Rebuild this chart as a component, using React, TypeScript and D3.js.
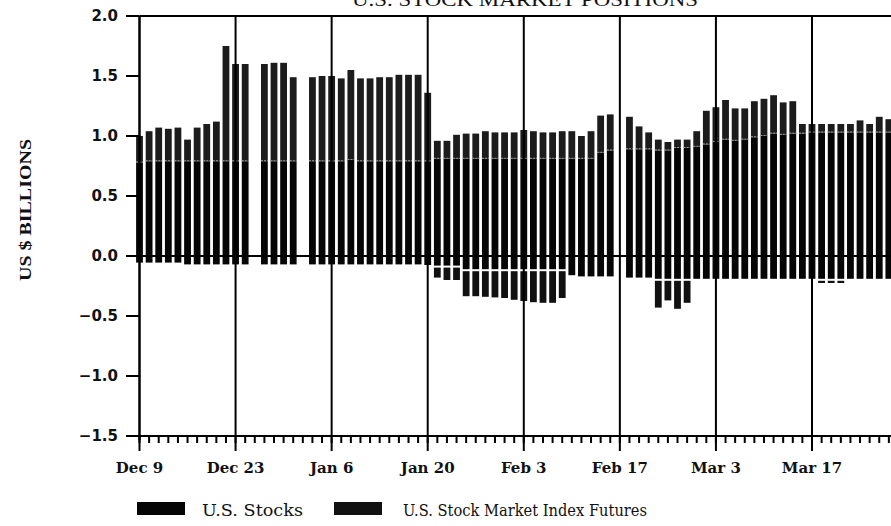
import React, { useEffect } from "react";
import * as d3 from "d3";

// Business-day index 0 = Dec 9; null = market holiday (Dec 25, Jan 1, Feb 17)
const tickLabels = ["Dec 9", "Dec 23", "Jan 6", "Jan 20", "Feb 3", "Feb 17", "Mar 3", "Mar 17"];
const tickIndex = [0, 10, 20, 30, 40, 50, 60, 70];
const yTicks = [2.0, 1.5, 1.0, 0.5, 0.0, -0.5, -1.0, -1.5];

// U.S. Stocks (long, bottom positive segment)
const stocks: (number | null)[] = [
  0.78, 0.79, 0.79, 0.79, 0.79, 0.79, 0.79, 0.79, 0.79, 0.79,
  0.79, 0.79, null, 0.79, 0.79, 0.79, 0.79, null, 0.79, 0.79,
  0.79, 0.79, 0.80, 0.79, 0.79, 0.79, 0.79, 0.79, 0.79, 0.79,
  0.79, 0.81, 0.81, 0.81, 0.81, 0.81, 0.81, 0.81, 0.81, 0.81,
  0.81, 0.81, 0.81, 0.81, 0.81, 0.81, 0.81, 0.81, 0.86, 0.88,
  null, 0.89, 0.89, 0.89, 0.88, 0.88, 0.90, 0.90, 0.91, 0.93,
  0.95, 0.97, 0.96, 0.97, 0.99, 1.00, 1.02, 1.01, 1.02, 1.02,
  1.03, 1.03, 1.03, 1.03, 1.03, 1.03, 1.03, 1.03, 1.03,
];

// U.S. Stock Market Index Futures (long, stacked on top)
const futures: (number | null)[] = [
  0.22, 0.25, 0.28, 0.27, 0.28, 0.18, 0.28, 0.31, 0.33, 0.96,
  0.81, 0.81, null, 0.81, 0.82, 0.82, 0.70, null, 0.70, 0.71,
  0.71, 0.69, 0.75, 0.69, 0.69, 0.70, 0.70, 0.72, 0.72, 0.72,
  0.57, 0.15, 0.15, 0.20, 0.21, 0.21, 0.23, 0.22, 0.22, 0.22,
  0.24, 0.23, 0.22, 0.22, 0.23, 0.23, 0.19, 0.23, 0.31, 0.30,
  null, 0.27, 0.19, 0.14, 0.09, 0.07, 0.07, 0.07, 0.13, 0.28,
  0.29, 0.33, 0.27, 0.26, 0.30, 0.31, 0.32, 0.27, 0.27, 0.08,
  0.07, 0.07, 0.07, 0.07, 0.07, 0.10, 0.07, 0.13, 0.11,
];

// U.S. Stocks (short, first negative segment)
const stocksShort: (number | null)[] = [
  -0.055, -0.055, -0.055, -0.055, -0.055, -0.07, -0.07, -0.07, -0.07, -0.07,
  -0.07, -0.07, null, -0.07, -0.07, -0.07, -0.07, null, -0.07, -0.07,
  -0.07, -0.07, -0.07, -0.07, -0.07, -0.07, -0.07, -0.07, -0.07, -0.07,
  -0.075, -0.08, -0.08, -0.08, -0.11, -0.11, -0.11, -0.11, -0.11, -0.11,
  -0.11, -0.11, -0.11, -0.11, -0.11, -0.16, -0.17, -0.17, -0.17, -0.17,
  null, -0.18, -0.18, -0.18, -0.19, -0.19, -0.19, -0.19, -0.19, -0.19,
  -0.19, -0.19, -0.19, -0.19, -0.19, -0.19, -0.19, -0.19, -0.19, -0.19,
  -0.19, -0.19, -0.19, -0.19, -0.19, -0.19, -0.19, -0.19, -0.19,
];

// U.S. Stock Market Index Futures (short, stacked below)
const futuresShort: (number | null)[] = [
  0, 0, 0, 0, 0, 0, 0, 0, 0, 0,
  0, 0, null, 0, 0, 0, 0, null, 0, 0,
  0, 0, 0, 0, 0, 0, 0, 0, 0, 0,
  0, -0.10, -0.12, -0.12, -0.225, -0.225, -0.23, -0.235, -0.24, -0.255,
  -0.265, -0.275, -0.28, -0.28, -0.24, 0, 0, 0, 0, 0,
  null, 0, 0, 0, -0.24, -0.18, -0.25, -0.20, 0, 0,
  0, 0, 0, 0, 0, 0, 0, 0, 0, 0,
  0, -0.035, -0.035, -0.035, 0, 0, 0, 0, 0,
];

const legendItems = ["U.S. Stocks", "U.S. Stock Market Index Futures"];

const W = 891;
const H = 526;

export default function App() {
  useEffect(() => {
    document.body.style.margin = "0";
  }, []);

  const x = d3.scaleLinear().domain([0, 70]).range([139.5, 812]);
  const y = d3.scaleLinear().domain([-1.5, 2]).range([436, 16]);
  const bw = 6.8;
  const right = W;
  const nIdx = d3.range(0, 80);

  const bars = stocks.map((s, i) => {
    if (s === null) return null;
    const f = futures[i] ?? 0;
    const ss = stocksShort[i] ?? 0;
    const fs = futuresShort[i] ?? 0;
    const cx = x(i);
    return (
      <g key={i}>
        <rect x={cx - bw / 2} y={y(s)} width={bw} height={y(0) - y(s)} fill="#050505" />
        {f > 0 && (
          <rect x={cx - bw / 2} y={y(s + f)} width={bw} height={y(s) - y(s + f)} fill="#1c1c1c" />
        )}
        {f > 0 && (
          <line x1={cx - bw / 2} x2={cx + bw / 2} y1={y(s) - 0.5} y2={y(s) - 0.5} stroke="#9a9a9a" strokeWidth={1} strokeDasharray="2 1" />
        )}
        <rect x={cx - bw / 2} y={y(0)} width={bw} height={y(ss) - y(0)} fill="#050505" />
        {fs < 0 && (
          <rect x={cx - bw / 2} y={y(ss) + 2} width={bw} height={y(ss + fs) - y(ss) - 2} fill="#111" />
        )}
      </g>
    );
  });

  return (
    <svg
      width={W}
      height={H}
      style={{ position: "absolute", left: 0, top: 0, display: "block", background: "#fff" }}
    >
      {/* title (cut off at the top, as in the source scan) */}
      <text
        x={525}
        y={6}
        textAnchor="middle"
        fontFamily="'Liberation Serif', serif"
        fontSize={18}
        textLength={346}
        lengthAdjust="spacingAndGlyphs"
        fill="#111"
      >
        U.S. STOCK MARKET POSITIONS
      </text>

      {/* bars */}
      {bars}

      {/* horizontal frame lines */}
      <line x1={x(0)} x2={right} y1={y(2)} y2={y(2)} stroke="#000" strokeWidth={2} />
      <line x1={x(0)} x2={right} y1={y(0)} y2={y(0)} stroke="#000" strokeWidth={2} />
      <line x1={x(0)} x2={right} y1={y(-1.5)} y2={y(-1.5)} stroke="#000" strokeWidth={2} />

      {/* vertical grid lines at labelled dates */}
      {tickIndex.map((t) => (
        <line key={t} x1={x(t)} x2={x(t)} y1={y(2)} y2={451} stroke="#000" strokeWidth={2} />
      ))}

      {/* minor daily ticks */}
      {nIdx.map((i) => (
        <line key={"m" + i} x1={x(i)} x2={x(i)} y1={y(-1.5)} y2={y(-1.5) + 7} stroke="#000" strokeWidth={2} />
      ))}

      {/* y axis */}
      <line x1={x(0)} x2={x(0)} y1={y(2)} y2={y(-1.5) + 4} stroke="#000" strokeWidth={2} />
      {yTicks.map((v) => (
        <g key={v}>
          <line x1={126} x2={x(0)} y1={y(v)} y2={y(v)} stroke="#000" strokeWidth={2} />
          <text
            x={118}
            y={y(v)}
            dy="0.36em"
            textAnchor="end"
            fontFamily="'DejaVu Sans', sans-serif"
            fontWeight="bold"
            fontSize={15}
            fill="#111"
          >
            {(v < 0 ? "\u2212" : "") + d3.format(".1f")(Math.abs(v))}
          </text>
        </g>
      ))}

      {/* y axis title */}
      <text
        transform={`translate(25, 210) rotate(-90)`}
        textAnchor="middle"
        dy="0.35em"
        fontFamily="'Liberation Serif', serif"
        fontWeight="bold"
        fontSize={16}
        textLength={142}
        lengthAdjust="spacingAndGlyphs"
        fill="#111"
      >
        US $ BILLIONS
      </text>

      {/* x labels */}
      {tickIndex.map((t, k) => (
        <text
          key={"l" + t}
          x={x(t)}
          y={473}
          textAnchor="middle"
          fontFamily="'DejaVu Serif', serif"
          fontWeight="bold"
          fontSize={15}
          fill="#111"
        >
          {tickLabels[k]}
        </text>
      ))}

      {/* legend */}
      <rect x={137} y={502} width={48} height={13} fill="#050505" />
      <text x={202} y={516} fontFamily="'DejaVu Serif', serif" fontSize={17} textLength={101} lengthAdjust="spacingAndGlyphs" fill="#111">
        {legendItems[0]}
      </text>
      <rect x={334} y={502} width={48} height={13} fill="#111" />
      <text x={403} y={516} fontFamily="'DejaVu Serif', serif" fontSize={17} textLength={244} lengthAdjust="spacingAndGlyphs" fill="#111">
        {legendItems[1]}
      </text>
    </svg>
  );
}
